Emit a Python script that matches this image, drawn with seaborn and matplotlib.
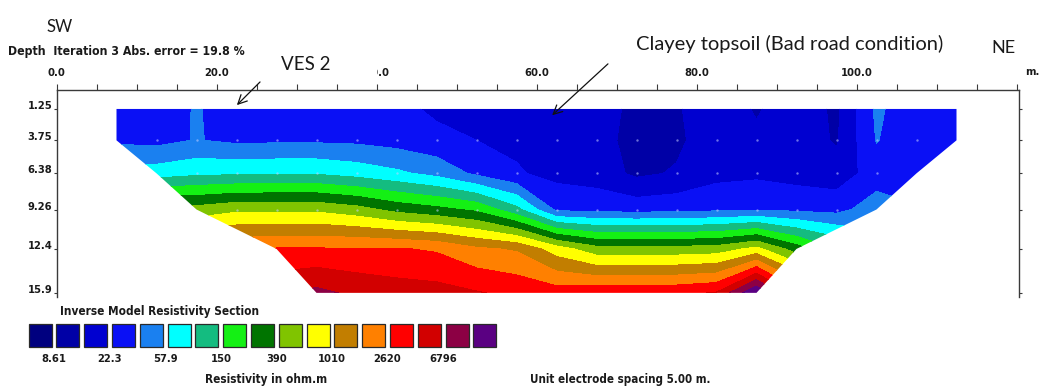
import numpy as np
import pandas as pd
import matplotlib
matplotlib.use("Agg")
import matplotlib.pyplot as plt
from matplotlib.patches import Polygon, Rectangle
import seaborn as sns

sns.set_theme(style="white")

# model block positions (m) and depths (m)
x_pos = [7.5, 12.5, 17.5, 22.5, 27.5, 32.5, 37.5, 42.5, 47.5, 52.5, 57.5,
         62.5, 67.5, 72.5, 77.5, 82.5, 87.5, 92.5, 97.5, 102.5, 107.5, 112.5]
depths = [1.25, 3.75, 6.38, 9.26, 12.4, 15.9]
depth_labels = ["1.25", "3.75", "6.38", "9.26", "12.4", "15.9"]

# extent of the section at each depth
left_edge = [7.5, 7.5, 12.5, 17.5, 27.5, 32.5]
right_edge = [112.5, 112.5, 107.5, 102.5, 92.5, 87.5]

# resistivity (ohm.m), one list per depth row
rho_d1 = [27.0, 27.0, 37.6, 27.0, 28.3, 28.3, 28.3, 25.7, 20.3, 19.3, 19.3,
          19.3, 17.6, 12.0, 13.2, 18.4, 13.2, 18.4, 12.6, 39.4, 25.7, 27.0]
rho_d2 = [32.6, 31.1, 36.8, 32.6, 33.4, 33.4, 32.6, 29.7, 25.7, 22.3, 20.3,
          19.3, 16.8, 11.5, 12.6, 18.4, 15.2, 17.6, 13.2, 36.8, 25.7, 27.0]
rho_d3 = [73.2, 73.2, 84.4, 86.7, 88.5, 88.5, 76.8, 63.5, 50.0, 32.6, 23.4,
          19.3, 17.6, 12.6, 14.5, 19.3, 20.3, 18.4, 16.8, 28.3, 28.3, 31.1]
rho_d4 = [491, 468, 468, 566, 566, 566, 468, 335, 277, 219, 107,
          32.6, 31.1, 29.7, 31.1, 32.6, 34.2, 32.6, 31.1, 45.5, 37.6, 35.9]
rho_d5 = [2044, 2044, 2044, 2473, 2720, 2720, 2720, 2720, 2473, 1772, 1536,
          789, 468, 468, 468, 491, 718, 305, 150, 73.2, 57.9, 57.9]
rho_d6 = [5291, 5291, 5291, 5819, 6400, 7740, 6103, 5291, 5046, 4375, 3793,
          3289, 3616, 3616, 3793, 4375, 17700, 3289, 491, 189, 124, 124]

legend_labels = ["8.61", "22.3", "57.9", "150", "390", "1010", "2620", "6796"]
legend_colors = ["#00007f", "#0000a6", "#0000d0", "#0a10f5", "#1a80f0", "#00ffff",
                 "#14bc80", "#14f014", "#007400", "#80c400", "#ffff00", "#c27e00",
                 "#ff8000", "#ff0000", "#d20000", "#8c0044", "#5a0082"]

x_ticks = [0, 20, 40, 60, 80, 100]
x_tick_labels = ["0.0", "20.0", "40.0", "60.0", "80.0", "100.0"]

rho = np.array([rho_d1, rho_d2, rho_d3, rho_d4, rho_d5, rho_d6])
palette = sns.color_palette(legend_colors)

# contour levels: legend values and geometric midpoints between them
lab = np.array([float(v) for v in legend_labels])
step = np.sqrt(lab[1:] / lab[:-1])
bounds = []
for i in range(len(lab) - 1):
    bounds += [lab[i], lab[i] * step[i]]
bounds += [lab[-1], lab[-1] * step[-1]]
edges = np.log10([1e-3] + bounds + [1e9])

mono = dict(family="DejaVu Sans", weight="bold", stretch="condensed", color="#1a1a1a")
callout = dict(family="Lato", color="#1a1a1a")

W, H = 1040, 392
fig = plt.figure(figsize=(W / 100, H / 100), dpi=100)
ax = fig.add_axes([56.5 / W, 1 - 297 / H, 962 / W, 207 / H])
ax.set_xlim(0, 120.25)
ax.set_ylim(16.23, -0.26)

verts = list(zip(right_edge, depths)) + list(zip(left_edge[::-1], depths[::-1]))
outline = Polygon(verts, closed=True, facecolor="none", edgecolor="none")
ax.add_patch(outline)
cs = ax.contourf(x_pos, depths, np.log10(rho), levels=edges, colors=palette)
cs.set_clip_path(outline)

# model block centres
pts = pd.DataFrame([(x, d) for i, d in enumerate(depths[1:4], start=1)
                    for x in x_pos if left_edge[i] < x < right_edge[i]],
                   columns=["x", "depth"])
sns.scatterplot(data=pts, x="x", y="depth", ax=ax, s=3, color="#c8d0ff",
                alpha=0.55, linewidth=0, legend=False)
ax.set_xlabel("")
ax.set_ylabel("")

for side in ["top", "left", "right"]:
    ax.spines[side].set_visible(True)
    ax.spines[side].set_color("#3a3a3a")
    ax.spines[side].set_linewidth(1.0)
ax.spines["bottom"].set_visible(False)

ax.xaxis.tick_top()
ax.set_xticks(x_ticks)
ax.set_xticklabels(x_tick_labels, fontsize=8, **mono)
ax.set_xticks(np.arange(0, 121, 5), minor=True)
ax.tick_params(axis="x", which="both", direction="out", length=4, width=0.8,
               color="#3a3a3a", pad=5, top=True, bottom=False)
ax.set_yticks(depths)
ax.set_yticklabels(depth_labels, fontsize=8, **mono)
for t in ax.get_yticklabels():
    t.set_va("baseline")
ax.tick_params(axis="y", direction="out", length=2, width=0.8, color="#3a3a3a",
               pad=1, left=True, right=True)

# colour legend boxes
cax = fig.add_axes([28.5 / W, 1 - 347 / H, 468 / W, 23 / H])
cax.bar(np.arange(len(legend_colors)), 1, width=0.83, color=palette,
        edgecolor="#2a2a2a", linewidth=0.9, clip_on=False)
cax.set_xlim(-0.42, len(legend_colors) - 0.58)
cax.set_ylim(0, 1)
for s in cax.spines.values():
    s.set_visible(False)
cax.set_yticks([])
cax.set_xticks(np.arange(len(legend_labels)) * 2 + 0.5)
cax.set_xticklabels(legend_labels, fontsize=8, **mono)
cax.tick_params(axis="x", length=0, pad=5)

fig.text(8 / W, 1 - 52 / H, "Depth  Iteration 3 Abs. error = 19.8 %",
         fontsize=8.8, va="center", **mono)
fig.text(1032 / W, 1 - 72 / H, "m.", fontsize=8, ha="center", va="center", **mono)
fig.text(60 / W, 1 - 311 / H, "Inverse Model Resistivity Section",
         fontsize=8.5, va="center", **mono)
fig.text(266 / W, 1 - 380 / H, "Resistivity in ohm.m", fontsize=8.5,
         ha="center", va="center", **mono)
fig.text(530 / W, 1 - 380 / H, "Unit electrode spacing 5.00 m.", fontsize=8.3,
         va="center", **mono)

# white text box of the VES 2 call-out hides part of the 40.0 label
fig.add_artist(Rectangle((272 / W, 1 - 80 / H), 105 / W, 26 / H,
                         transform=fig.transFigure, facecolor="white",
                         edgecolor="none", zorder=5))
fig.text(59.5 / W, 1 - 27 / H, "SW", fontsize=12, ha="center", va="center",
         zorder=6, **callout)
fig.text(1003.5 / W, 1 - 48 / H, "NE", fontsize=13, ha="center", va="center",
         zorder=6, **callout)
fig.text(306 / W, 1 - 64 / H, "VES 2", fontsize=13.5, ha="center", va="center",
         zorder=6, **callout)
fig.text(790 / W, 1 - 44 / H, "Clayey topsoil (Bad road condition)", fontsize=14.5,
         ha="center", va="center", zorder=6, **callout)

arrow = dict(arrowstyle="->", color="#111111", lw=0.9, mutation_scale=16)
ax.annotate("", xy=(22.3, 1.1), xycoords="data",
            xytext=(262 / W, 1 - 80 / H), textcoords="figure fraction",
            arrowprops=arrow, annotation_clip=False, zorder=7)
ax.annotate("", xy=(61.7, 1.9), xycoords="data",
            xytext=(610 / W, 1 - 62 / H), textcoords="figure fraction",
            arrowprops=arrow, annotation_clip=False, zorder=7)

plt.savefig("out.png", dpi=100)
plt.close()
